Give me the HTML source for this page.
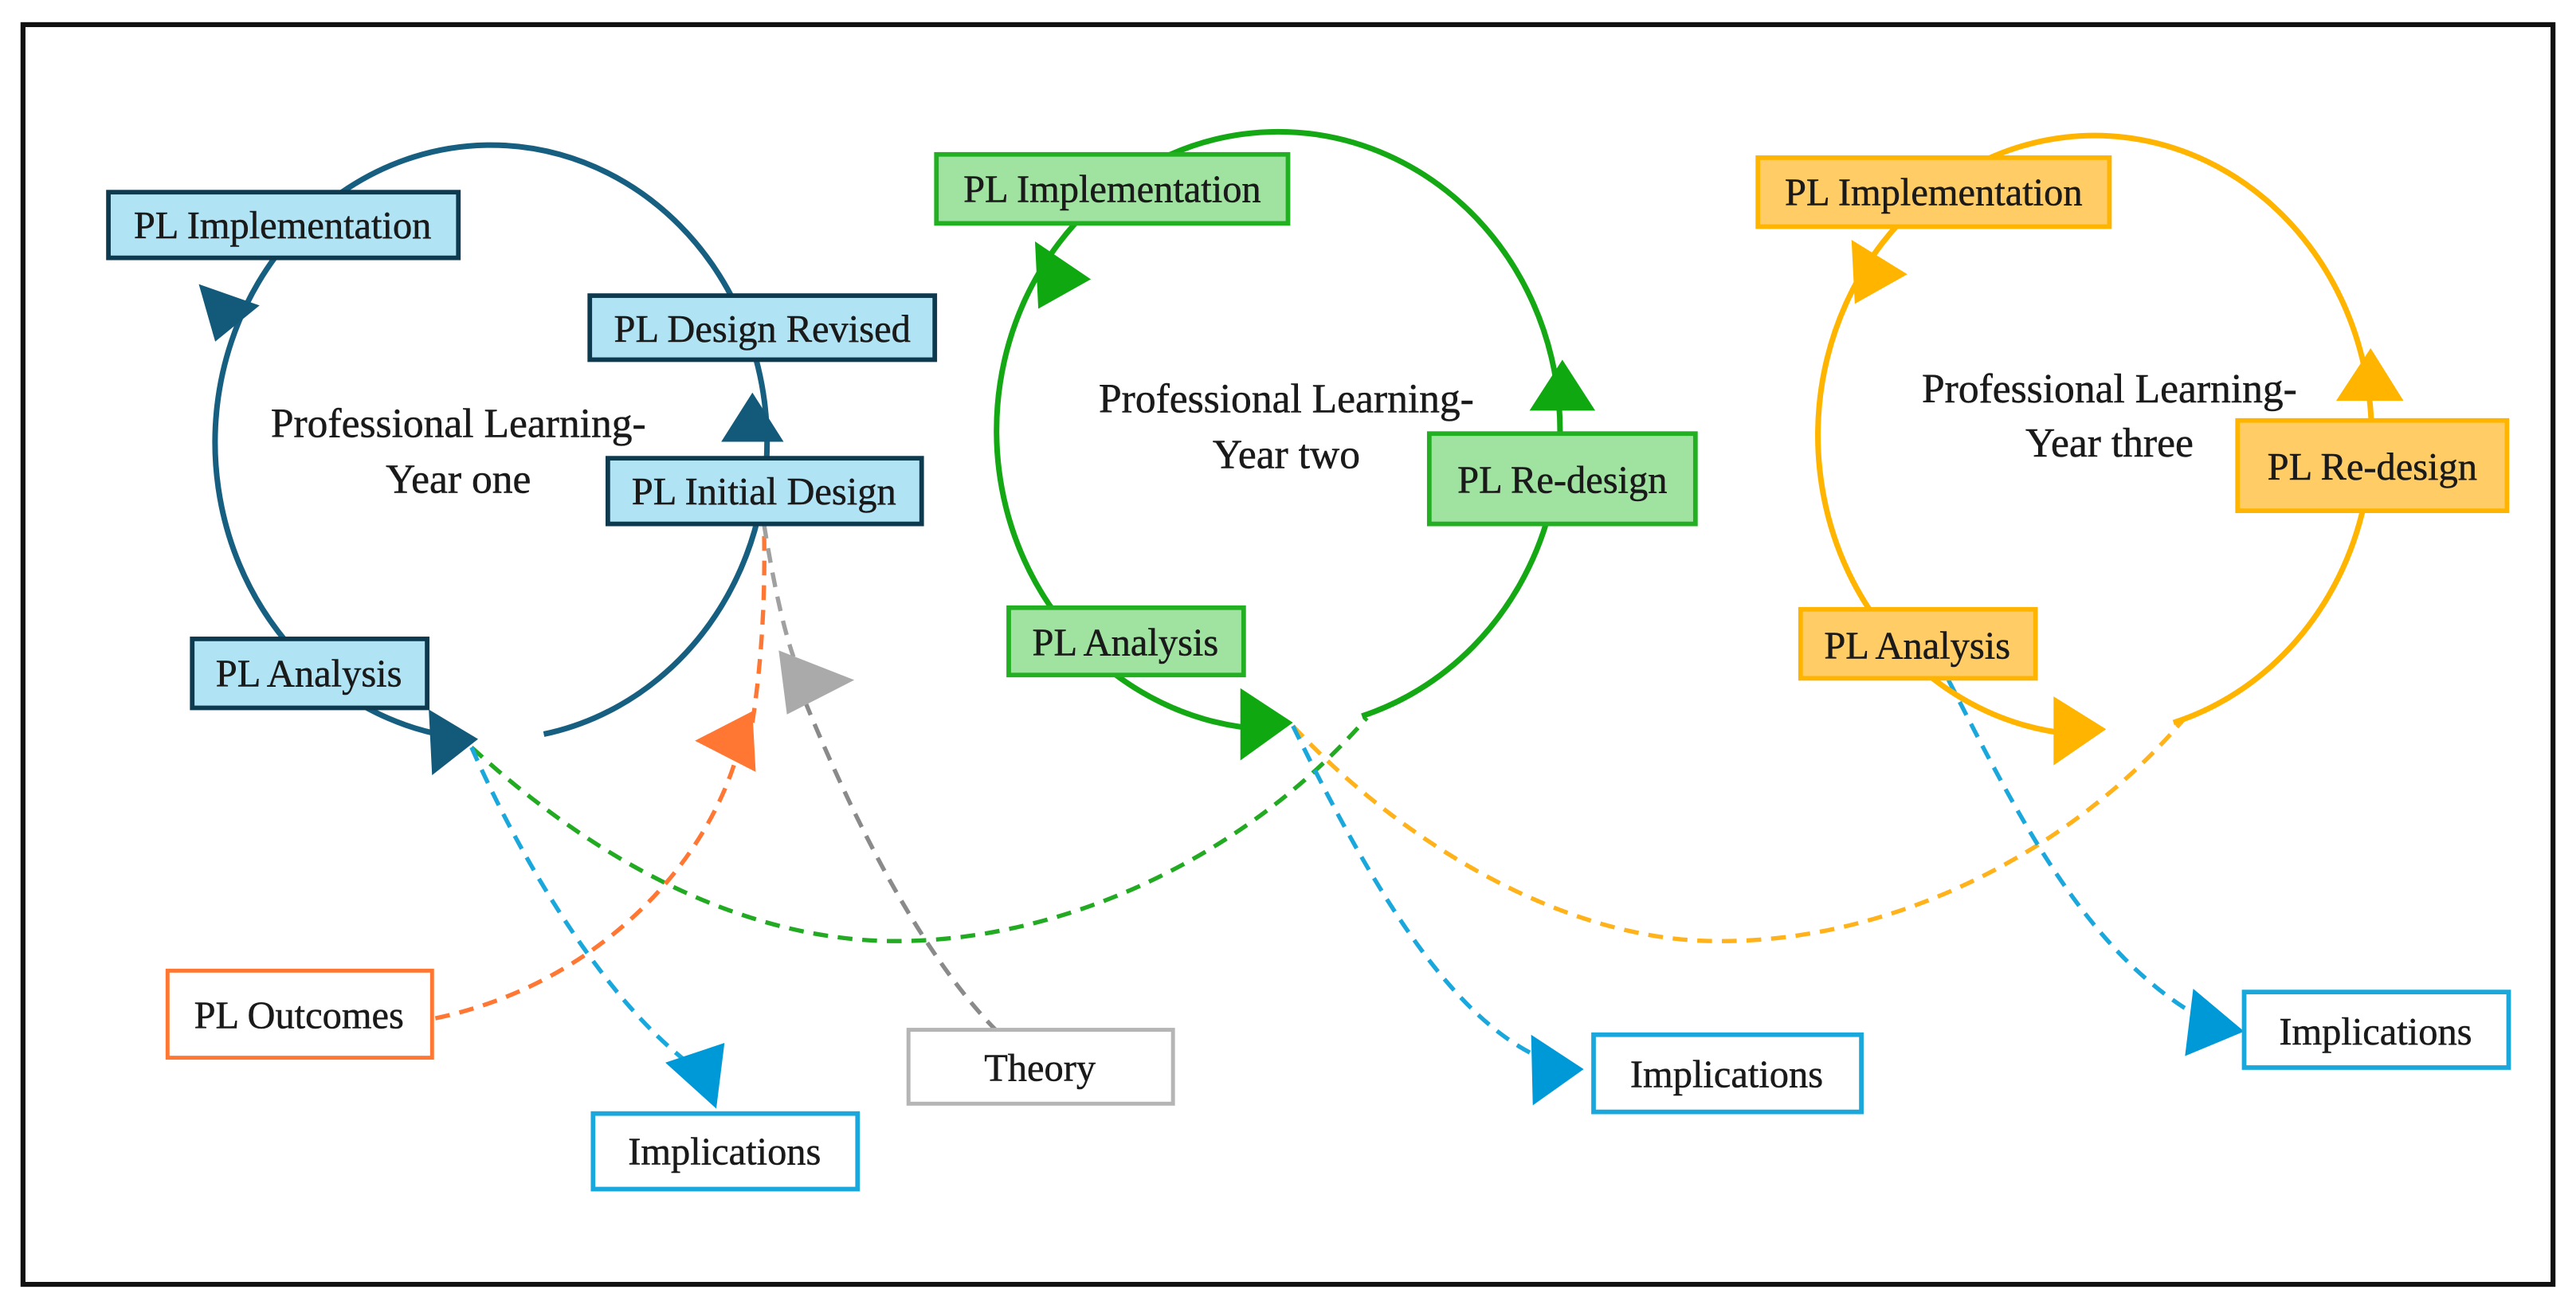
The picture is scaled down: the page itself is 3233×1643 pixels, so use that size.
<!DOCTYPE html>
<html><head><meta charset="utf-8"><style>
html,body{margin:0;padding:0;background:#fff;}
svg{display:block;}
text{font-family:"Liberation Serif",serif;fill:#1a1a1a;stroke:#1a1a1a;stroke-width:0.25;}
</style></head><body>
<svg width="3233" height="1643" viewBox="0 0 1568 797" preserveAspectRatio="none" xmlns="http://www.w3.org/2000/svg">
<rect x="14" y="15" width="1540" height="767" fill="#fff" stroke="#111" stroke-width="3"/>

<!-- dashed connectors -->
<g fill="none" stroke-width="2.6" stroke-dasharray="9,6">
<path d="M287,455 C380,540 470,573 545,573 C650,573 760,520 832,437" stroke="#22aa22"/>
<path d="M787,442 C850,510 950,573 1045,573 C1150,574 1260,520 1330,437" stroke="#ffb21a"/>
<path d="M287,455 C320,530 370,610 420,648" stroke="#1aa8dc"/>
<path d="M787,442 C830,530 880,620 940,645" stroke="#1aa8dc"/>
<path d="M1186,414 C1230,500 1270,580 1340,620" stroke="#1aa8dc"/>
<path d="M265,620 C360,600 430,530 450,455" stroke="#ff7733"/>
<path d="M458,440 C464,400 466,360 465,319" stroke="#ff7733"/>
<path d="M465,319 C470,350 476,380 483,400" stroke="#a0a0a0"/>
<path d="M490,427 C520,500 560,580 606,627" stroke="#8a8a8a"/>
</g>

<!-- circles -->
<path d="M331,447 A168,181 0 1 0 272,448" fill="none" stroke="#165f80" stroke-width="3.4"/>
<path d="M829,436 A171.5,182 0 1 0 770,444" fill="none" stroke="#14a814" stroke-width="3.4"/>
<path d="M1323,440 A168.5,182.5 0 1 0 1262,447" fill="none" stroke="#ffb400" stroke-width="3.4"/>

<!-- arrowheads -->
<g fill="#135a7a">
<polygon points="121,173 158,186 131,208"/>
<polygon points="458,239 439,269 477,269"/>
<polygon points="291,450 261,432 263,472"/>
</g>
<g fill="#10a810">
<polygon points="630,147 664,170 632,188"/>
<polygon points="951,219 931,250 971,250"/>
<polygon points="787,440 755,419 755,463"/>
</g>
<g fill="#ffb400">
<polygon points="1127,146 1161,167 1129,185"/>
<polygon points="1443,212 1422,244 1463,244"/>
<polygon points="1282,444 1250,424 1250,466"/>
</g>
<polygon points="423,451 458,433 460,470" fill="#ff7733"/>
<polygon points="474,396 520,414 479,435" fill="#aaaaaa"/>
<g fill="#0099d8">
<polygon points="405,647 441,635 436,675"/>
<polygon points="964,651 932,630 933,673"/>
<polygon points="1366,628 1335,602 1330,643"/>
</g>

<!-- boxes -->
<g stroke="#0e3a50" stroke-width="2.8" fill="#b0e4f4">
<rect x="66" y="117" width="213" height="40"/>
<rect x="359" y="180" width="210" height="39"/>
<rect x="370" y="279" width="191" height="40"/>
<rect x="117" y="389" width="143" height="42"/>
</g>
<g stroke="#22b022" stroke-width="2.8" fill="#a0e2a0">
<rect x="570" y="94" width="214" height="42"/>
<rect x="870" y="264" width="162" height="55"/>
<rect x="614" y="370" width="143" height="41"/>
</g>
<g stroke="#ffb400" stroke-width="2.8" fill="#ffcc66">
<rect x="1070" y="96" width="214" height="42"/>
<rect x="1362" y="256" width="164" height="55"/>
<rect x="1096" y="371" width="143" height="42"/>
</g>
<rect x="102" y="591" width="161" height="53" fill="#fff" stroke="#ff7733" stroke-width="2.4"/>
<rect x="553" y="627" width="161" height="45" fill="#fff" stroke="#b5b5b5" stroke-width="2.4"/>
<g fill="#fff" stroke="#1aa8dc" stroke-width="2.8">
<rect x="361" y="678" width="161" height="46"/>
<rect x="970" y="630" width="163" height="47"/>
<rect x="1366" y="604" width="161" height="46"/>
</g>

<!-- labels -->
<g font-size="23.5" text-anchor="middle">
<text x="172" y="145">PL Implementation</text>
<text x="464" y="208">PL Design Revised</text>
<text x="465" y="307">PL Initial Design</text>
<text x="188" y="418">PL Analysis</text>
<text x="677" y="123">PL Implementation</text>
<text x="951" y="300">PL Re-design</text>
<text x="685" y="399">PL Analysis</text>
<text x="1177" y="125">PL Implementation</text>
<text x="1444" y="292">PL Re-design</text>
<text x="1167" y="401">PL Analysis</text>
<text x="182" y="626">PL Outcomes</text>
<text x="633" y="658">Theory</text>
<text x="441" y="709">Implications</text>
<text x="1051" y="662">Implications</text>
<text x="1446" y="636">Implications</text>
</g>
<g font-size="25" text-anchor="middle">
<text x="279" y="266">Professional Learning-</text>
<text x="279" y="300">Year one</text>
<text x="783" y="251">Professional Learning-</text>
<text x="783" y="285">Year two</text>
<text x="1284" y="245">Professional Learning-</text>
<text x="1284" y="278">Year three</text>
</g>
</svg>
</body></html>
